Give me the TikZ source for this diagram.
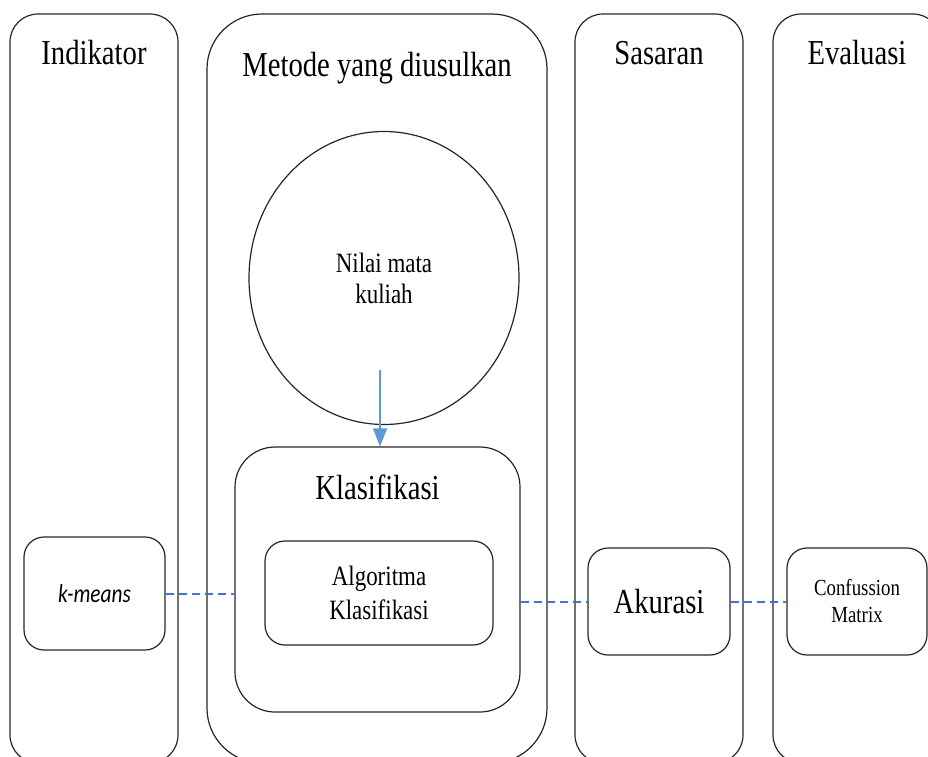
\documentclass[tikz,border=0pt]{standalone}
\usepackage{fontspec}
\setmainfont{Liberation Serif}
\newfontfamily\kmfont{Carlito}
\usetikzlibrary{shapes.geometric,arrows.meta,positioning,calc}
\definecolor{flowblue}{HTML}{5B9BD5}
\definecolor{dashblue}{HTML}{3F74D1}
\definecolor{edgegray}{HTML}{262626}
% narrow the letters a little, as in the picture
\newcommand{\sq}[1]{\scalebox{0.82}[1]{#1}}

\begin{document}
\begin{tikzpicture}[
  x=1pt, y=-1pt,
  every node/.style={align=center, inner sep=0pt, text=black},
  lane/.style={draw=edgegray, line width=1.2pt, rounded corners=28pt, minimum width=168pt, minimum height=749pt},
  widelane/.style={lane, rounded corners=55pt, minimum width=340pt},
  title/.style={anchor=base, font=\fontsize{35}{40}\selectfont},
  group/.style={draw=edgegray, line width=1.2pt, rounded corners=40pt, minimum width=285pt, minimum height=265pt},
  box/.style={draw=edgegray, line width=1.2pt, rounded corners=20pt, minimum height=107pt},
  data/.style={draw=edgegray, line width=1.2pt, ellipse, minimum width=270pt, minimum height=293pt},
  link/.style={draw=dashblue, line width=2pt, dash pattern=on 8pt off 5pt},
  flow/.style={draw=flowblue, line width=1.4pt, -{Triangle[width=14pt, length=18pt]}}
]
\useasboundingbox (0,0) rectangle (928,756);
\clip (0,0) rectangle (928,756);

% four lanes, cut off at the bottom and at the right
\node[lane] (ind) at (94,388.5) {};
\node[widelane] (met) at (377,388.5) {};
\node[lane] (sas) at (659,388.5) {};
\node[lane] (eva) at (857,388.5) {};

\foreach \ln/\txt in {ind/Indikator, sas/Sasaran, eva/Evaluasi}
  \node[title] (t\ln) at ([yshift=-51pt]\ln.north) {\sq{\txt}};
\node[title] (tmet) at ([yshift=-63pt]met.north) {\sq{Metode yang diusulkan}};

% proposed method
\node[data, font=\fontsize{28}{31}\selectfont] (nilai) at (384,278) {\sq{Nilai mata}\\\sq{kuliah}};
\node[group] (klas) at (377.5,579.5) {};
\node[title] (tklas) at ([yshift=-53pt]klas.north) {\sq{Klasifikasi}};
\node[box, minimum width=228pt, minimum height=104pt, font=\fontsize{28}{34}\selectfont] (algo) at (379,593) {\sq{Algoritma}\\\sq{Klasifikasi}};

\coordinate (src) at (380,370);
\draw[flow] (src) -- (src |- klas.north);

% indicator, target, evaluation
\node[box, minimum width=141pt, minimum height=113pt, font=\kmfont\itshape\fontsize{26}{30}\selectfont] (km) at (94.5,593.5) {\sq{k-means}};
\node[box, minimum width=142pt, font=\fontsize{35}{40}\selectfont] (aku) at (659,601.5) {\sq{Akurasi}};
\node[box, minimum width=140pt, font=\fontsize{23}{27}\selectfont] (conf) at (857,601.5) {\sq{Confussion}\\\sq{Matrix}};

\draw[link] (km.east) -- (km.east -| klas.west);
\draw[link] (klas.east |- aku.west) -- (aku.west);
\draw[link] (aku.east) -- (conf.west);
\end{tikzpicture}
\end{document}
